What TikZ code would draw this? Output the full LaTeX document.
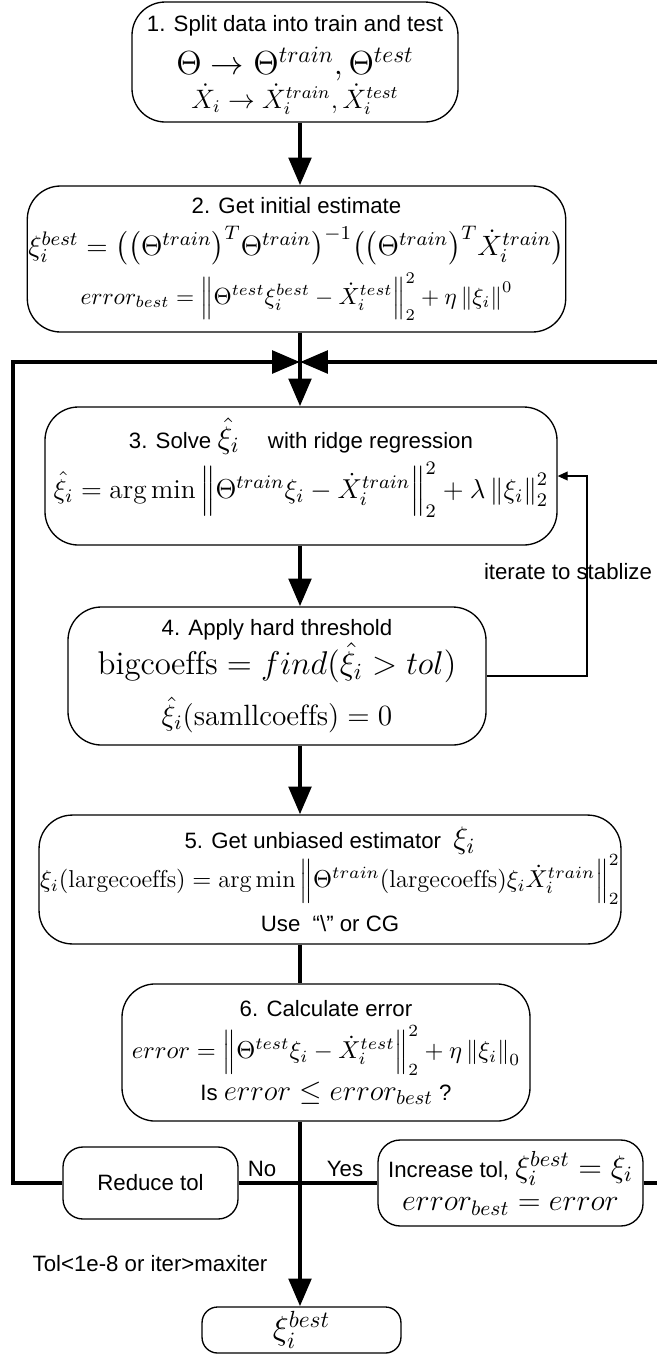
\RequirePackage{fix-cm}
\documentclass[tikz,border=0pt]{standalone}
\usepackage{amsmath, amssymb}
\usepackage{fontspec}
\newfontfamily\helv{Liberation Sans}
\usetikzlibrary{arrows.meta, calc}

\newcommand{\mf}[1]{\fontsize{#1}{0}\selectfont}
\newcommand{\boxfont}{\helv\fontsize{10}{0}\selectfont\lineskiplimit=-100pt\relax}

\begin{document}
\begin{tikzpicture}[
    x=0.45pt, y=-0.45pt,
    box/.style={draw, line width=0.6pt, rounded corners=15pt, align=center, inner sep=0.5pt, font=\boxfont},
    arrow/.style={line width=2.1pt, -{Triangle[length=12.5pt,width=10pt]}},
    flow/.style={line width=2.1pt},
    thinarrow/.style={line width=0.5pt, -{Triangle[length=4.5pt,width=4pt]}},
    lbl/.style={font=\helv, inner sep=0pt}
]
\useasboundingbox (0,0) rectangle (657,1356);

\node (split) [box, text depth=0pt, minimum width=146.7pt, minimum height=54pt] at (295,62)
    {1. Split data into train and test\\[19pt]
     \mf{15}$\Theta\rightarrow\Theta^{train},\Theta^{test}$\\[15.3pt]
     \mf{12}$\dot{X}_i\rightarrow\dot{X}_i^{train},\dot{X}_i^{test}$};
\node (init) [box, minimum width=241.7pt, minimum height=65.7pt] at (296.5,259)
    {2. Get initial estimate\\[19pt]
     \mf{12.6}$\xi_i^{best}=\big(\big(\Theta^{train}\big)^T\Theta^{train}\big)^{-1}\big(\big(\Theta^{train}\big)^T\dot{X}_i^{train}\big)$\\[22pt]
     \mf{10.5}$error_{best}=\left\|\Theta^{test}\xi_i^{best}-\dot{X}_i^{test}\right\|_2^2+\eta\left\|\xi_i\right\|^0$};
\node (ridge) [box, text depth=16pt, minimum width=230.4pt, minimum height=62.1pt] at (301,476)
    {3. Solve {\mf{14}$\hat{\xi}_i$}\hspace{10pt} with ridge regression\\[22.5pt]
     \mf{12.3}$\hat{\xi}_i=\arg\min\left\|\Theta^{train}\xi_i-\dot{X}_i^{train}\right\|_2^2+\lambda\left\|\xi_i\right\|_2^2$};
\node (thresh) [box, minimum width=188.1pt, minimum height=62.1pt] at (277,676)
    {4. Apply hard threshold\\[17.5pt]
     \mf{14.8}$\mathrm{bigcoeffs}=find(\hat{\xi}_i>tol)$\\[23pt]
     \mf{13.2}$\hat{\xi}_i(\mathrm{samllcoeffs})=0$};
\node (unbiased) [box, minimum width=254.7pt, minimum height=58pt] at (330,879.5)
    {5. Get unbiased estimator\ \ {\mf{14}$\xi_i$}\\[17.5pt]
     \mf{11}$\xi_i(\mathrm{largecoeffs})=\arg\min\left\|\Theta^{train}(\mathrm{largecoeffs})\xi_i\dot{X}_i^{train}\right\|_2^2$\\[20pt]
     Use\ \ “\textbackslash” or CG};
\node (error) [box, minimum width=183.6pt, minimum height=61.7pt] at (326,1052.5)
    {6. Calculate error\\[19pt]
     \mf{11}$error=\left\|\Theta^{test}\xi_i-\dot{X}_i^{test}\right\|_2^2+\eta\left\|\xi_i\right\|_0$\\[19pt]
     Is {\mf{13}$error\leq error_{best}$} ?};
\node (reduce) [box, rounded corners=9pt, minimum width=78.75pt, minimum height=32.4pt] at (150.5,1183) {Reduce tol};
\node (increase) [box, rounded corners=10pt, minimum width=119.25pt, minimum height=38.7pt] at (510.5,1183)
    {Increase tol, {\mf{14}$\xi_i^{best}=\xi_i$}\\[15pt]
     \mf{13.5}$error_{best}=error$};
\node (best) [box, rounded corners=7pt, minimum width=89.5pt, minimum height=20.7pt] at (301.5,1330) {\mf{15}$\xi_i^{best}$};

\node (iter) [lbl] at (568,572) {iterate to stablize};
\node (no) [lbl] at (262,1169) {No};
\node (yes) [lbl] at (345,1169) {Yes};
\node (stop) [lbl] at (150,1264) {Tol<1e-8 or iter>maxiter};

\coordinate (J) at (300,362);
\coordinate (lc) at (13,362);
\coordinate (rc) at (672,362);
\coordinate (fb) at (587,0);

\draw [arrow] (split.south -| J) -- (init.north -| J);
\draw [flow] (init.south -| J) -- (J);
\draw [arrow] (J) -- (ridge.north -| J);
\draw [arrow] (reduce.west) -| (lc) -- (J);
\draw [arrow] (increase.east) -| (rc) -- (J);
\draw [arrow] (ridge.south -| J) -- (thresh.north -| J);
\draw [arrow] (thresh.south -| J) -- (unbiased.north -| J);
\draw [flow] (unbiased.south -| J) -- (error.north -| J);
\draw [arrow] (error.south -| J) -- (best.north -| J);
\draw [flow] (reduce.east) -- (increase.west);
\draw [thinarrow] (thresh.east) -- (thresh.east -| fb) |- (ridge.east);
\end{tikzpicture}
\end{document}
